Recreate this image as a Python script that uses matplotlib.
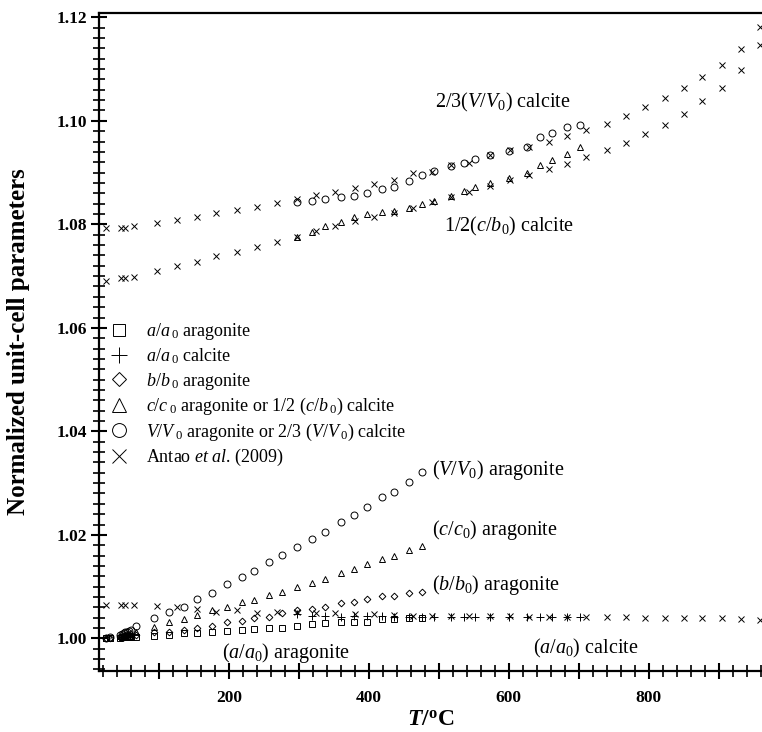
import matplotlib
matplotlib.use("Agg")
import matplotlib.pyplot as plt
from matplotlib.ticker import MultipleLocator, FuncFormatter
from matplotlib.lines import Line2D

plt.rcParams["font.family"] = "Liberation Serif"
plt.rcParams["mathtext.fontset"] = "custom"
plt.rcParams["mathtext.rm"] = "Liberation Serif"
plt.rcParams["mathtext.it"] = "Liberation Serif:italic"
plt.rcParams["mathtext.bf"] = "Liberation Serif:bold"
plt.rcParams["mathtext.bfit"] = "Liberation Serif:italic:bold"

# aragonite (this study)
arag_T = [25, 30, 45, 48, 50, 52, 55, 58, 61, 68, 93, 114, 136, 155, 176, 198, 219, 236,
          257, 276, 298, 319, 338, 360, 379, 398, 419, 436, 457, 476]
arag_a = [1.0000, 1.0000, 1.0001, 1.0002, 1.0002, 1.0002, 1.0003, 1.0003, 1.0003, 1.0003,
          1.0005, 1.0007, 1.0010, 1.0011, 1.0013, 1.0015, 1.0016, 1.0018, 1.0020, 1.0021,
          1.0024, 1.0027, 1.0029, 1.0031, 1.0031, 1.0032, 1.0037, 1.0037, 1.0040, 1.0040]
arag_b = [1.0000, 1.0001, 1.0002, 1.0003, 1.0003, 1.0004, 1.0004, 1.0005, 1.0005, 1.0007,
          1.0013, 1.0013, 1.0016, 1.0020, 1.0024, 1.0031, 1.0034, 1.0039, 1.0042, 1.0049,
          1.0054, 1.0056, 1.0061, 1.0068, 1.0071, 1.0076, 1.0081, 1.0081, 1.0087, 1.0090]
arag_c = [1.0000, 1.0001, 1.0004, 1.0005, 1.0006, 1.0007, 1.0008, 1.0009, 1.0010, 1.0013,
          1.0022, 1.0031, 1.0037, 1.0045, 1.0054, 1.0061, 1.0071, 1.0074, 1.0084, 1.0090,
          1.0099, 1.0108, 1.0114, 1.0127, 1.0134, 1.0143, 1.0153, 1.0159, 1.0171, 1.0179]
arag_V = [1.0000, 1.0003, 1.0007, 1.0009, 1.0010, 1.0012, 1.0013, 1.0015, 1.0016, 1.0024,
          1.0039, 1.0052, 1.0061, 1.0076, 1.0088, 1.0105, 1.0118, 1.0131, 1.0147, 1.0161,
          1.0177, 1.0192, 1.0206, 1.0224, 1.0239, 1.0253, 1.0274, 1.0282, 1.0303, 1.0322]

# calcite (this study)
calc_T = [298, 319, 338, 360, 379, 398, 419, 436, 457, 476, 494, 517, 536, 552, 574, 600,
          626, 645, 662, 683, 702]
calc_a = [1.0047, 1.0044, 1.0043, 1.0042, 1.0043, 1.0043, 1.0043, 1.0042, 1.0042, 1.0042,
          1.0042, 1.0042, 1.0042, 1.0042, 1.0042, 1.0041, 1.0042, 1.0041, 1.0041, 1.0041,
          1.0041]
calc_c = [1.0775, 1.0786, 1.0796, 1.0805, 1.0814, 1.0820, 1.0823, 1.0825, 1.0831, 1.0840,
          1.0845, 1.0854, 1.0865, 1.0872, 1.0879, 1.0889, 1.0899, 1.0915, 1.0924, 1.0936,
          1.0949]
calc_V = [1.0844, 1.0846, 1.0849, 1.0853, 1.0854, 1.0860, 1.0868, 1.0873, 1.0883, 1.0895,
          1.0903, 1.0912, 1.0918, 1.0926, 1.0934, 1.0942, 1.0950, 1.0968, 1.0976, 1.0989,
          1.0991]

# Antao et al. (2009), calcite
antao_T = [25, 46, 52, 64, 97, 126, 155, 182, 212, 240, 269, 297, 324, 352, 381, 408, 436,
           464, 490, 517, 543, 574, 602, 629, 657, 683, 711, 740, 768, 795, 824, 850, 876,
           905, 932, 959]
antao_a = [1.0065, 1.0065, 1.0065, 1.0065, 1.0063, 1.0061, 1.0056, 1.0052, 1.0055, 1.0050,
           1.0052, 1.0052, 1.0049, 1.0049, 1.0047, 1.0047, 1.0045, 1.0044, 1.0044, 1.0043,
           1.0043, 1.0043, 1.0043, 1.0042, 1.0042, 1.0042, 1.0041, 1.0041, 1.0041, 1.0040,
           1.0040, 1.0040, 1.0039, 1.0039, 1.0038, 1.0036]
antao_c = [1.0690, 1.0696, 1.0696, 1.0699, 1.0709, 1.0719, 1.0728, 1.0738, 1.0746, 1.0756,
           1.0766, 1.0776, 1.0787, 1.0796, 1.0806, 1.0814, 1.0822, 1.0832, 1.0843, 1.0852,
           1.0862, 1.0875, 1.0886, 1.0896, 1.0907, 1.0917, 1.0930, 1.0944, 1.0958, 1.0974,
           1.0992, 1.1013, 1.1039, 1.1064, 1.1099, 1.1147]
antao_V = [1.0793, 1.0793, 1.0793, 1.0796, 1.0803, 1.0809, 1.0814, 1.0821, 1.0827, 1.0833,
           1.0842, 1.0849, 1.0856, 1.0862, 1.0871, 1.0878, 1.0886, 1.0899, 1.0902, 1.0915,
           1.0919, 1.0934, 1.0943, 1.0950, 1.0960, 1.0970, 1.0982, 1.0993, 1.1009, 1.1026,
           1.1045, 1.1064, 1.1085, 1.1108, 1.1138, 1.1182]

legend_labels = [
    r"$a/a_{\;\mathit{0}}$ aragonite",
    r"$a/a_{\;\mathit{0}}$ calcite",
    r"$b/b_{\;\mathit{0}}$ aragonite",
    r"$c/c_{\;\mathit{0}}$ aragonite or 1/2 ($c/b_{\;\mathit{0}}$) calcite",
    r"$V/V_{\;\mathit{0}}$ aragonite or 2/3 ($V/V_{\;\mathit{0}}$) calcite",
    r"Antao $et\ al$. (2009)",
]

fig = plt.figure(figsize=(7.62, 7.32), dpi=100)
ax = fig.add_axes([0.1303, 0.0833, 0.8697, 0.8994])

mk = dict(ls="none", mfc="none", mec="black", mew=0.7)
ax.plot(arag_T, arag_a, marker="s", ms=4.0, **mk)
ax.plot(arag_T, arag_b, marker="D", ms=3.4, **mk)
ax.plot(arag_T, arag_c, marker="^", ms=4.5, **mk)
ax.plot(arag_T, arag_V, marker="o", ms=5.0, **mk)
ax.plot(calc_T, calc_a, marker="+", ms=6.0, **mk)
ax.plot(calc_T, calc_c, marker="^", ms=4.5, **mk)
ax.plot(calc_T, calc_V, marker="o", ms=5.0, **mk)
ax.plot(antao_T, antao_a, marker="x", ms=5.0, **mk)
ax.plot(antao_T, antao_c, marker="x", ms=5.0, **mk)
ax.plot(antao_T, antao_V, marker="x", ms=5.0, **mk)

txt = dict(fontsize=14.5, va="center", ha="left")
ax.text(495, 1.1035, r"2/3($V/V_{\mathit{0}}$) calcite", **txt)
ax.text(507, 1.0796, r"1/2($c/b_{\mathit{0}}$) calcite", **txt)
ax.text(490, 1.0326, r"($V/V_{\mathit{0}}$) aragonite", **txt)
ax.text(490, 1.0210, r"($c/c_{\mathit{0}}$) aragonite", **txt)
ax.text(490, 1.0103, r"($b/b_{\mathit{0}}$) aragonite", **txt)
ax.text(190, 0.9971, r"($a/a_{\mathit{0}}$) aragonite", **txt)
ax.text(635, 0.9981, r"($a/a_{\mathit{0}}$) calcite", **txt)

handles = [
    Line2D([], [], marker="s", ms=9, **mk),
    Line2D([], [], marker="+", ms=12, **mk),
    Line2D([], [], marker="D", ms=7.5, **mk),
    Line2D([], [], marker="^", ms=10, **mk),
    Line2D([], [], marker="o", ms=10, **mk),
    Line2D([], [], marker="x", ms=10, **mk),
]
ax.legend(handles, legend_labels, loc="upper left", bbox_to_anchor=(0.012, 0.531),
          frameon=False, fontsize=13, borderpad=0, borderaxespad=0,
          handlelength=1.3, handletextpad=0.85, labelspacing=0.24)

ax.set_xlim(15, 962)
ax.set_ylim(0.9937, 1.1209)

ax.xaxis.set_major_locator(MultipleLocator(100))
ax.xaxis.set_minor_locator(MultipleLocator(20))
ax.xaxis.set_major_formatter(FuncFormatter(lambda v, p: f"{v:.0f}" if v % 200 == 0 else ""))
ax.yaxis.set_major_locator(MultipleLocator(0.02))
ax.yaxis.set_minor_locator(MultipleLocator(0.002))
ax.yaxis.set_major_formatter(FuncFormatter(lambda v, p: f"{v:.2f}"))

ax.tick_params(which="major", direction="inout", length=12, width=1.5, labelsize=12.5)
ax.tick_params(which="minor", direction="inout", length=8, width=1.2)
ax.tick_params(axis="x", which="major", pad=8)
ax.tick_params(axis="y", which="major", pad=3)
ax.tick_params(top=False, right=False, which="both")
for lab in ax.get_xticklabels() + ax.get_yticklabels():
    lab.set_fontweight("bold")

for side in ["left", "bottom", "top"]:
    ax.spines[side].set_linewidth(1.6)
ax.spines["right"].set_visible(False)

ax.set_ylabel("Normalized unit-cell parameters", fontsize=18, fontweight="bold")
ax.yaxis.set_label_coords(-0.105, 0.5)
ax.set_xlabel(r"$\mathbfit{T}$/$\mathbf{^o}$C", fontsize=17, fontweight="bold")
ax.xaxis.set_label_coords(0.5, -0.058)

fig.savefig("out.png", dpi=100)
